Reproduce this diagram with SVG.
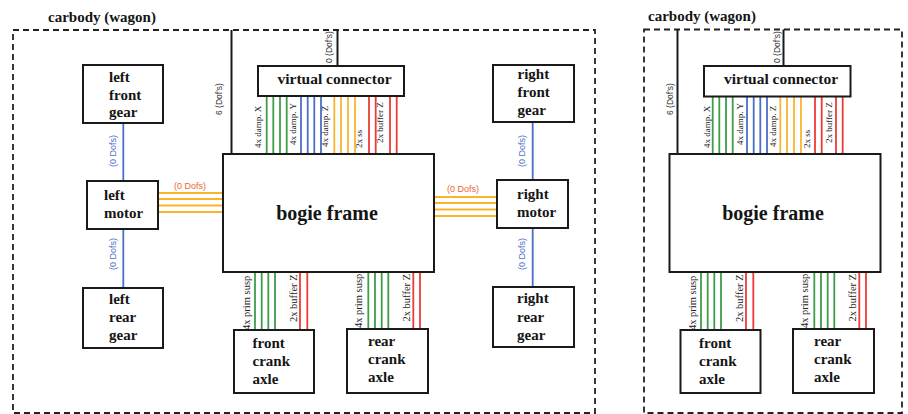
<svg xmlns="http://www.w3.org/2000/svg" width="908" height="414" viewBox="0 0 908 414">
<style>
.bg{fill:#ffffff}
.box{fill:#ffffff;stroke:#1a1a1a;stroke-width:2}
.car{fill:none;stroke:#222;stroke-width:1.8;stroke-dasharray:6 4}
.blk{stroke:#1a1a1a;stroke-width:2;fill:none}
.g{stroke:#3e9e48;stroke-width:1.8;fill:none}
.b{stroke:#4a6fc6;stroke-width:1.8;fill:none}
.o{stroke:#f9b42c;stroke-width:1.8;fill:none}
.r{stroke:#ee3a35;stroke-width:1.8;fill:none}
.nt{font-family:"Liberation Serif","Times New Roman",serif;font-weight:bold;font-size:15px;fill:#151515}
.title{font-family:"Liberation Serif","Times New Roman",serif;font-weight:bold;font-size:15px;fill:#151515}
.big{font-family:"Liberation Serif","Times New Roman",serif;font-weight:bold;font-size:20px;fill:#151515}
.vc{font-family:"Liberation Serif","Times New Roman",serif;font-weight:bold;font-size:15.5px;fill:#151515}
.lt{font-family:"Liberation Serif","Times New Roman",serif;font-size:9px;fill:#222}
.lb{font-family:"Liberation Serif","Times New Roman",serif;font-size:10.5px;fill:#222}
.dof{font-family:"Liberation Sans",Arial,sans-serif;font-size:8.5px;fill:#333}
.dofo{font-family:"Liberation Sans",Arial,sans-serif;font-size:9px;fill:#e8682c}
.dofb{font-family:"Liberation Sans",Arial,sans-serif;font-size:9px;fill:#4a6fc6}
</style>
<rect class="bg" x="0" y="0" width="908" height="414"/>

<!-- ============ LEFT DIAGRAM ============ -->
<g id="carbody-left">
  <rect class="car" x="13" y="30" width="582" height="383"/>
  <text class="title" x="48" y="22">carbody (wagon)</text>
</g>

<g id="connectors-left">
  <!-- carbody to bogie -->
  <line class="blk" x1="231.5" y1="30" x2="231.5" y2="154"/>
  <text class="dof" transform="translate(222,115) rotate(-90)">6 (Dof's)</text>
  <!-- carbody to virtual connector -->
  <line class="blk" x1="337.5" y1="30" x2="337.5" y2="66"/>
  <text class="dof" transform="translate(332,63) rotate(-90)">0 (Dof's)</text>
  <!-- virtual connector to bogie -->
  <g class="g">
    <line x1="266.7" y1="96" x2="266.7" y2="154"/><line x1="273.3" y1="96" x2="273.3" y2="154"/>
    <line x1="280" y1="96" x2="280" y2="154"/><line x1="286.7" y1="96" x2="286.7" y2="154"/>
  </g>
  <g class="b">
    <line x1="301" y1="96" x2="301" y2="154"/><line x1="307.7" y1="96" x2="307.7" y2="154"/>
    <line x1="314.3" y1="96" x2="314.3" y2="154"/><line x1="321" y1="96" x2="321" y2="154"/>
  </g>
  <g class="o">
    <line x1="334.3" y1="96" x2="334.3" y2="154"/><line x1="341" y1="96" x2="341" y2="154"/>
    <line x1="348" y1="96" x2="348" y2="154"/><line x1="355" y1="96" x2="355" y2="154"/>
  </g>
  <g class="r">
    <line x1="369" y1="96" x2="369" y2="154"/><line x1="375.7" y1="96" x2="375.7" y2="154"/>
    <line x1="390" y1="96" x2="390" y2="154"/><line x1="396.7" y1="96" x2="396.7" y2="154"/>
  </g>
  <text class="lt" transform="translate(260.5,148) rotate(-90)">4x damp. X</text>
  <text class="lt" transform="translate(295.5,145) rotate(-90)">4x damp. Y</text>
  <text class="lt" transform="translate(328,147) rotate(-90)">4x damp. Z</text>
  <text class="lt" transform="translate(362,148) rotate(-90)">2x ss</text>
  <text class="lt" transform="translate(383,143) rotate(-90)">2x buffer Z</text>

  <!-- gears and motors -->
  <line class="b" x1="123.3" y1="123" x2="123.3" y2="181"/>
  <text class="dofb" text-anchor="middle" transform="translate(116,151) rotate(-90)">(0 Dofs)</text>
  <line class="b" x1="123.3" y1="229" x2="123.3" y2="288"/>
  <text class="dofb" text-anchor="middle" transform="translate(116,254) rotate(-90)">(0 Dofs)</text>
  <line class="b" x1="532.7" y1="122" x2="532.7" y2="180"/>
  <text class="dofb" text-anchor="middle" transform="translate(525,151) rotate(-90)">(0 Dofs)</text>
  <line class="b" x1="532.7" y1="228" x2="532.7" y2="287"/>
  <text class="dofb" text-anchor="middle" transform="translate(525,254) rotate(-90)">(0 Dofs)</text>

  <!-- motors to bogie -->
  <g class="o">
    <line x1="158" y1="193" x2="223" y2="193"/><line x1="158" y1="199" x2="223" y2="199"/>
    <line x1="158" y1="205.5" x2="223" y2="205.5"/><line x1="158" y1="212" x2="223" y2="212"/>
    <line x1="434" y1="197" x2="497" y2="197"/><line x1="434" y1="203" x2="497" y2="203"/>
    <line x1="434" y1="209.5" x2="497" y2="209.5"/><line x1="434" y1="216" x2="497" y2="216"/>
  </g>
  <text class="dofo" text-anchor="middle" x="190" y="188.5">(0 Dofs)</text>
  <text class="dofo" text-anchor="middle" x="463" y="191.5">(0 Dofs)</text>

  <!-- bogie to crank axles -->
  <g class="g">
    <line x1="255" y1="272" x2="255" y2="330"/><line x1="261.7" y1="272" x2="261.7" y2="330"/>
    <line x1="268.3" y1="272" x2="268.3" y2="330"/><line x1="275" y1="272" x2="275" y2="330"/>
    <line x1="368.3" y1="272" x2="368.3" y2="329"/><line x1="375" y1="272" x2="375" y2="329"/>
    <line x1="381.7" y1="272" x2="381.7" y2="329"/><line x1="388.3" y1="272" x2="388.3" y2="329"/>
  </g>
  <g class="r">
    <line x1="300" y1="272" x2="300" y2="330"/><line x1="307.3" y1="272" x2="307.3" y2="330"/>
    <line x1="413.3" y1="272" x2="413.3" y2="329"/><line x1="420" y1="272" x2="420" y2="329"/>
  </g>
  <text class="lb" transform="translate(249.5,330) rotate(-90)">4x prim susp</text>
  <text class="lb" transform="translate(296.5,322) rotate(-90)">2x buffer Z</text>
  <text class="lb" transform="translate(362,328) rotate(-90)">4x prim susp</text>
  <text class="lb" transform="translate(409.5,321.5) rotate(-90)">2x buffer Z</text>
</g>

<g id="virtual-connector-left">
  <rect class="box" x="258" y="66" width="146" height="30"/>
  <text class="vc" text-anchor="middle" x="334.5" y="84">virtual connector</text>
</g>
<g id="bogie-frame-left">
  <rect class="box" x="223" y="154" width="211" height="118"/>
  <text class="big" text-anchor="middle" x="327" y="220">bogie frame</text>
</g>
<g id="left-front-gear">
  <rect class="box" x="83" y="65" width="80" height="58"/>
  <text class="nt" x="109" y="82">left</text>
  <text class="nt" x="109" y="99.5">front</text>
  <text class="nt" x="109" y="117">gear</text>
</g>
<g id="left-motor">
  <rect class="box" x="87" y="181" width="71" height="48"/>
  <text class="nt" x="104" y="200">left</text>
  <text class="nt" x="104" y="217.5">motor</text>
</g>
<g id="left-rear-gear">
  <rect class="box" x="83" y="288" width="80" height="60"/>
  <text class="nt" x="109" y="304">left</text>
  <text class="nt" x="109" y="322">rear</text>
  <text class="nt" x="109" y="339.5">gear</text>
</g>
<g id="right-front-gear">
  <rect class="box" x="493" y="65" width="81" height="57"/>
  <text class="nt" x="517.5" y="79">right</text>
  <text class="nt" x="517.5" y="97">front</text>
  <text class="nt" x="517.5" y="115">gear</text>
</g>
<g id="right-motor">
  <rect class="box" x="497" y="180" width="71" height="48"/>
  <text class="nt" x="517" y="199">right</text>
  <text class="nt" x="517" y="217">motor</text>
</g>
<g id="right-rear-gear">
  <rect class="box" x="493" y="287" width="81" height="60"/>
  <text class="nt" x="517" y="303">right</text>
  <text class="nt" x="517" y="321.5">rear</text>
  <text class="nt" x="517" y="339.5">gear</text>
</g>
<g id="front-crank-axle-left">
  <rect class="box" x="234" y="330" width="80" height="63"/>
  <text class="nt" x="252.5" y="348">front</text>
  <text class="nt" x="252.5" y="366">crank</text>
  <text class="nt" x="252.5" y="384">axle</text>
</g>
<g id="rear-crank-axle-left">
  <rect class="box" x="347" y="329" width="81" height="64"/>
  <text class="nt" x="368" y="346">rear</text>
  <text class="nt" x="368" y="364">crank</text>
  <text class="nt" x="368" y="382">axle</text>
</g>

<!-- ============ RIGHT DIAGRAM ============ -->
<g id="carbody-right">
  <rect class="car" x="644" y="29.5" width="258" height="383.5"/>
  <text class="title" x="648" y="21">carbody (wagon)</text>
</g>

<g id="connectors-right">
  <line class="blk" x1="677.5" y1="29.5" x2="677.5" y2="154"/>
  <text class="dof" transform="translate(672.5,115) rotate(-90)">6 (Dof's)</text>
  <line class="blk" x1="783.5" y1="29.5" x2="783.5" y2="66"/>
  <text class="dof" transform="translate(780,63) rotate(-90)">0 (Dof's)</text>
  <g class="g">
    <line x1="712.7" y1="96" x2="712.7" y2="154"/><line x1="719.3" y1="96" x2="719.3" y2="154"/>
    <line x1="726" y1="96" x2="726" y2="154"/><line x1="732.7" y1="96" x2="732.7" y2="154"/>
  </g>
  <g class="b">
    <line x1="747" y1="96" x2="747" y2="154"/><line x1="753.7" y1="96" x2="753.7" y2="154"/>
    <line x1="760.3" y1="96" x2="760.3" y2="154"/><line x1="767" y1="96" x2="767" y2="154"/>
  </g>
  <g class="o">
    <line x1="780.3" y1="96" x2="780.3" y2="154"/><line x1="787" y1="96" x2="787" y2="154"/>
    <line x1="794" y1="96" x2="794" y2="154"/><line x1="801" y1="96" x2="801" y2="154"/>
  </g>
  <g class="r">
    <line x1="815" y1="96" x2="815" y2="154"/><line x1="821.7" y1="96" x2="821.7" y2="154"/>
    <line x1="836" y1="96" x2="836" y2="154"/><line x1="842.7" y1="96" x2="842.7" y2="154"/>
  </g>
  <text class="lt" transform="translate(709.5,148) rotate(-90)">4x damp. X</text>
  <text class="lt" transform="translate(742.5,145) rotate(-90)">4x damp. Y</text>
  <text class="lt" transform="translate(775.5,147) rotate(-90)">4x damp. Z</text>
  <text class="lt" transform="translate(810,148) rotate(-90)">2x ss</text>
  <text class="lt" transform="translate(831.5,143) rotate(-90)">2x buffer Z</text>

  <g class="g">
    <line x1="701" y1="272" x2="701" y2="330"/><line x1="707.7" y1="272" x2="707.7" y2="330"/>
    <line x1="714.3" y1="272" x2="714.3" y2="330"/><line x1="721" y1="272" x2="721" y2="330"/>
    <line x1="814.3" y1="272" x2="814.3" y2="329"/><line x1="821" y1="272" x2="821" y2="329"/>
    <line x1="827.7" y1="272" x2="827.7" y2="329"/><line x1="834.3" y1="272" x2="834.3" y2="329"/>
  </g>
  <g class="r">
    <line x1="746" y1="272" x2="746" y2="330"/><line x1="753.3" y1="272" x2="753.3" y2="330"/>
    <line x1="859.3" y1="272" x2="859.3" y2="329"/><line x1="866" y1="272" x2="866" y2="329"/>
  </g>
  <text class="lb" transform="translate(695.5,330) rotate(-90)">4x prim susp</text>
  <text class="lb" transform="translate(742.5,322) rotate(-90)">2x buffer Z</text>
  <text class="lb" transform="translate(808,328) rotate(-90)">4x prim susp</text>
  <text class="lb" transform="translate(855.5,321.5) rotate(-90)">2x buffer Z</text>
</g>

<g id="virtual-connector-right">
  <rect class="box" x="704" y="66" width="146.5" height="30.5"/>
  <text class="vc" text-anchor="middle" x="781" y="84">virtual connector</text>
</g>
<g id="bogie-frame-right">
  <rect class="box" x="669.5" y="154" width="211" height="118"/>
  <text class="big" text-anchor="middle" x="773" y="220">bogie frame</text>
</g>
<g id="front-crank-axle-right">
  <rect class="box" x="680.5" y="330" width="80" height="63"/>
  <text class="nt" x="699" y="348">front</text>
  <text class="nt" x="699" y="366">crank</text>
  <text class="nt" x="699" y="384">axle</text>
</g>
<g id="rear-crank-axle-right">
  <rect class="box" x="793" y="329" width="81" height="64"/>
  <text class="nt" x="814" y="346">rear</text>
  <text class="nt" x="814" y="364">crank</text>
  <text class="nt" x="814" y="382">axle</text>
</g>
</svg>
